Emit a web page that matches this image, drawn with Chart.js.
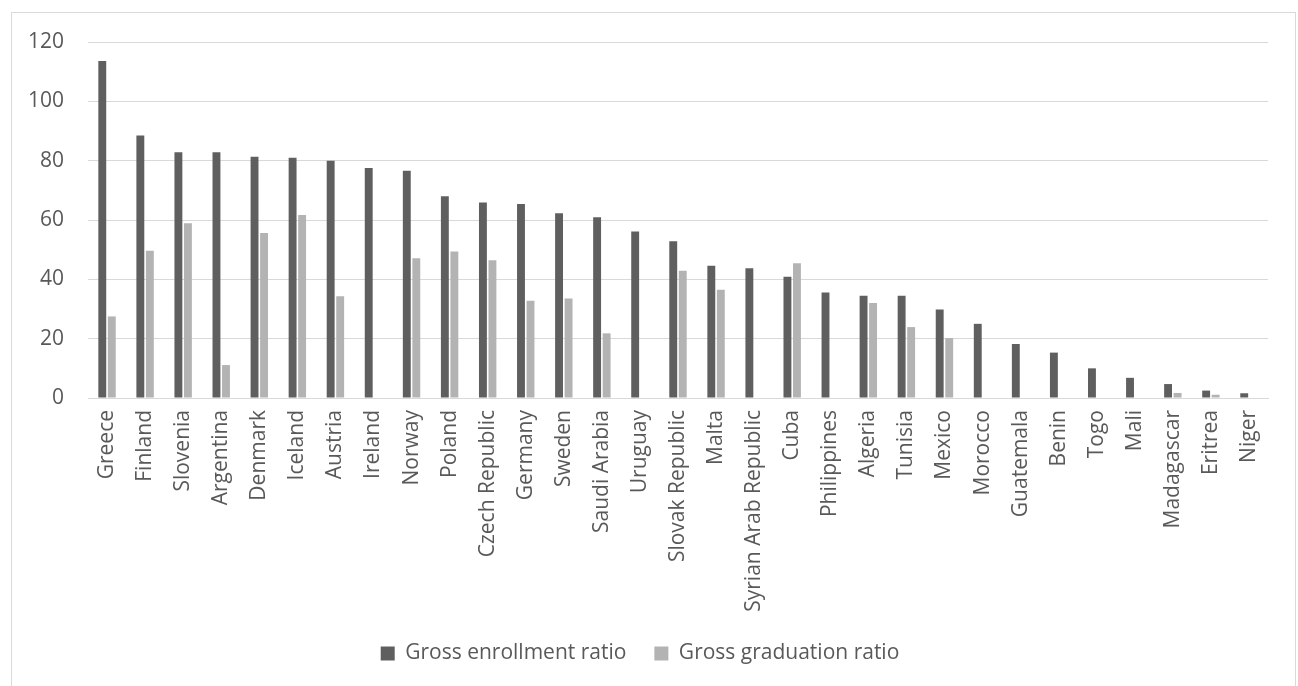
<!DOCTYPE html>
<html>
<head>
<meta charset="utf-8">
<script src="https://cdn.jsdelivr.net/npm/chart.js@4"></script>
<style>
  body { margin: 0; background: #fff; }
  #box { position: absolute; left: 11px; top: 12px; width: 1283px; height: 684px; border: 1px solid #d9d9d9; }
</style>
</head>
<body>
<div id="box"><canvas id="grafico" width="1283" height="684"></canvas></div>
<script>
const paises = ['Greece', 'Finland', 'Slovenia', 'Argentina', 'Denmark', 'Iceland', 'Austria', 'Ireland',
  'Norway', 'Poland', 'Czech Republic', 'Germany', 'Sweden', 'Saudi Arabia', 'Uruguay', 'Slovak Republic',
  'Malta', 'Syrian Arab Republic', 'Cuba', 'Philippines', 'Algeria', 'Tunisia', 'Mexico', 'Morocco',
  'Guatemala', 'Benin', 'Togo', 'Mali', 'Madagascar', 'Eritrea', 'Niger'];

const matricula = [113.6, 88.5, 82.8, 82.8, 81.3, 81.0, 80.0, 77.5, 76.6, 68.0, 65.9, 65.4, 62.3, 60.9, 56.1,
  52.8, 44.6, 43.7, 40.9, 35.6, 34.5, 34.5, 29.8, 25.0, 18.2, 15.3, 10.0, 6.8, 4.7, 2.5, 1.6];

const graduacao = [27.5, 49.6, 58.9, 11.1, 55.6, 61.7, 34.3, null, 47.1, 49.4, 46.4, 32.8, 33.5, 21.8, null,
  42.9, 36.5, null, 45.4, null, 32.0, 23.9, 20.2, null, null, null, null, null, 1.7, 1.1, null];

const ticksY = [0, 20, 40, 60, 80, 100, 120];

const ctx = document.getElementById('grafico').getContext('2d');
const fonte = 'Open Sans';

new Chart(ctx, {
  type: 'bar',
  data: {
    labels: paises,
    datasets: [
      { label: 'Gross enrollment ratio', data: matricula, backgroundColor: '#5f5f5f' },
      { label: 'Gross graduation ratio', data: graduacao, backgroundColor: '#b3b3b3' }
    ]
  },
  options: {
    responsive: false,
    animation: false,
    layout: { padding: { top: 0, right: 27, bottom: 23, left: 0 } },
    datasets: { bar: { categoryPercentage: 0.5, barPercentage: 0.83 } },
    plugins: {
      tooltip: { enabled: false },
      legend: {
        position: 'bottom',
        labels: {
          boxWidth: 14, boxHeight: 14, padding: 28,
          color: '#595959', font: { family: fonte, size: 21 }
        }
      }
    },
    scales: {
      x: {
        grid: { display: false },
        border: { color: '#d9d9d9' },
        ticks: {
          autoSkip: false, minRotation: 90, maxRotation: 90, padding: 4,
          color: '#595959', font: { family: fonte, size: 21 }
        },
        afterFit: function(scale) { scale.height = 217; }
      },
      y: {
        min: 0, max: 120,
        grid: { color: '#d9d9d9', drawTicks: false },
        border: { display: false },
        afterBuildTicks: function(scale) { scale.ticks = ticksY.map(v => ({ value: v })); },
        ticks: { padding: 24, color: '#595959', font: { family: fonte, size: 21 } },
        afterFit: function(scale) {
          scale.width = 76;
          scale.paddingTop = 29;   // sobra em cima do 120
          scale.paddingBottom = 0;
        }
      }
    }
  }
});
</script>
</body>
</html>
